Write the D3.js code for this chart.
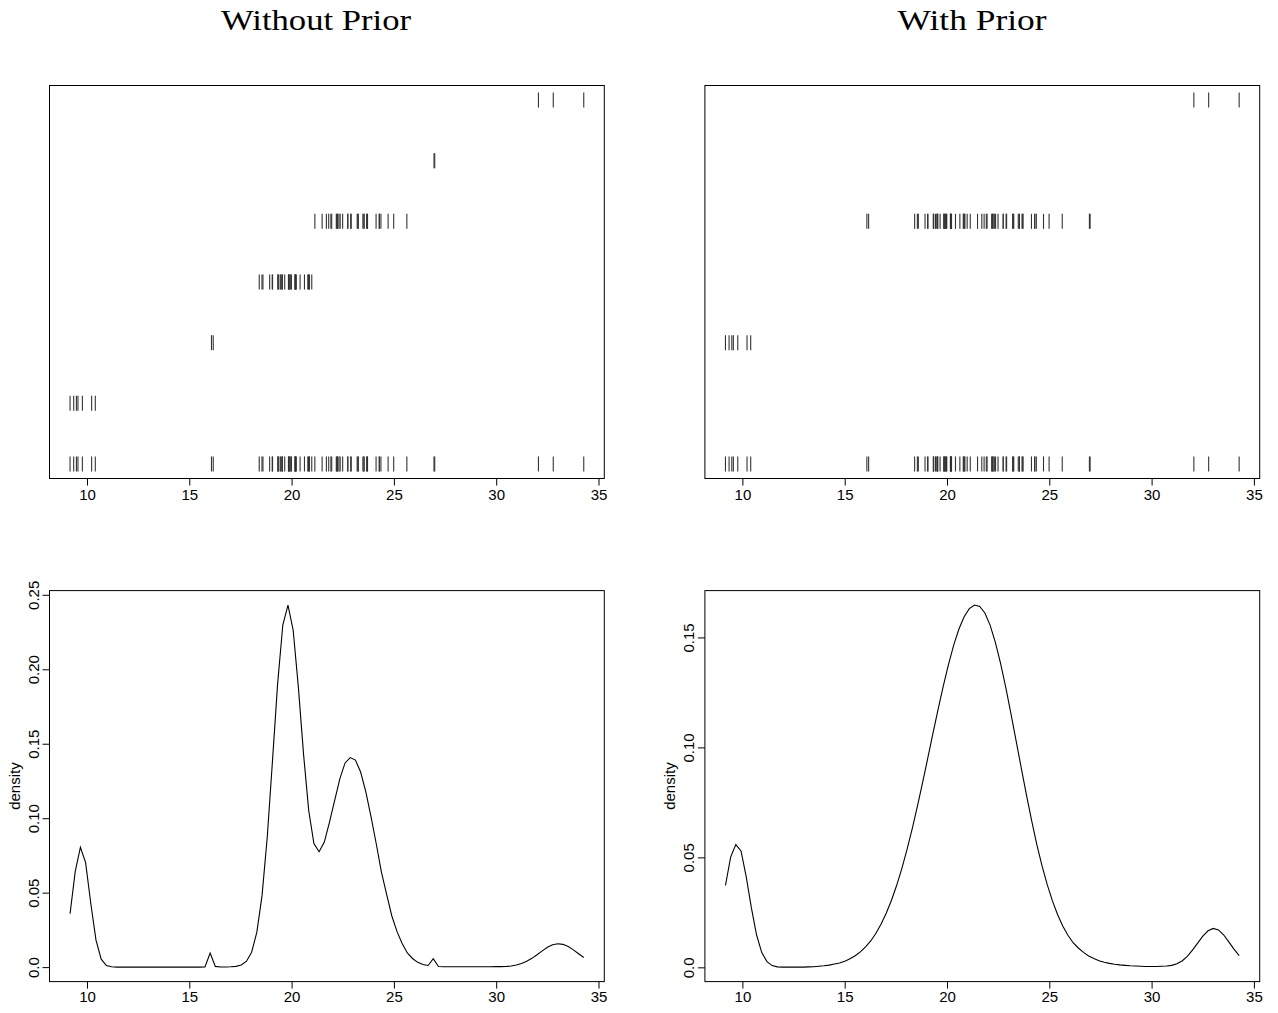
<!DOCTYPE html>
<html><head><meta charset="utf-8">
<script src="https://cdn.jsdelivr.net/npm/d3@7"></script>
<style>body{margin:0;background:#fff} svg{display:block}</style>
</head><body>
<script>
// Galaxy velocities (km/s / 1000)
const velocities = [9.172, 9.350, 9.483, 9.558, 9.775, 10.227, 10.406, 16.084, 16.170, 18.419,
  18.552, 18.600, 18.927, 19.052, 19.070, 19.330, 19.343, 19.349, 19.440, 19.473,
  19.529, 19.541, 19.547, 19.663, 19.846, 19.856, 19.863, 19.914, 19.918, 19.973,
  19.989, 20.166, 20.175, 20.179, 20.196, 20.215, 20.221, 20.415, 20.629, 20.795,
  20.821, 20.846, 20.875, 20.986, 21.137, 21.492, 21.701, 21.814, 21.921, 21.960,
  22.185, 22.209, 22.242, 22.249, 22.314, 22.374, 22.495, 22.746, 22.747, 22.888,
  22.914, 23.206, 23.241, 23.263, 23.484, 23.538, 23.542, 23.666, 23.706, 23.711,
  24.129, 24.285, 24.289, 24.366, 24.717, 24.990, 25.633, 26.960, 26.995, 32.065,
  32.789, 34.279];

// Row (cluster level) of each observation
const clusterWithoutPrior = [1,1,1,1,1,1,1, 2,2,
  3,3,3,3,3,3,3,3,3,3, 3,3,3,3,3,3,3,3,3,3, 3,3,3,3,3,3,3,3,3,3, 3,3,3,3,3,
  4,4,4,4,4,4,4,4,4,4, 4,4,4,4,4,4,4,4,4,4, 4,4,4,4,4,4,4,4,4,4, 4,4,4,
  5,5, 6,6,6];
const clusterWithPrior = [2,2,2,2,2,2,2,
  4,4,4,4,4,4,4,4,4,4, 4,4,4,4,4,4,4,4,4,4, 4,4,4,4,4,4,4,4,4,4, 4,4,4,4,4,4,4,4,4,4,
  4,4,4,4,4,4,4,4,4,4, 4,4,4,4,4,4,4,4,4,4, 4,4,4,4,4,4,4,4,4,4, 4,4,
  6,6,6];
const clusterLevels = [0, 6];

// Density evaluation grid
const densityX = [9.172,9.426,9.679,9.933,10.186,10.440,10.694,10.947,11.201,11.454,
  11.708,11.962,12.215,12.469,12.722,12.976,13.230,13.483,13.737,13.991,
  14.244,14.498,14.751,15.005,15.259,15.512,15.766,16.019,16.273,16.527,
  16.780,17.034,17.287,17.541,17.795,18.048,18.302,18.555,18.809,19.063,
  19.316,19.570,19.823,20.077,20.331,20.584,20.838,21.091,21.345,21.599,
  21.852,22.106,22.360,22.613,22.867,23.120,23.374,23.628,23.881,24.135,
  24.388,24.642,24.896,25.149,25.403,25.657,25.910,26.164,26.417,26.671,
  26.925,27.178,27.432,27.685,27.939,28.193,28.446,28.700,28.954,29.207,
  29.461,29.714,29.968,30.222,30.475,30.729,30.982,31.236,31.490,31.743,
  31.997,32.251,32.504,32.758,33.011,33.265,33.519,33.772,34.026,34.279];

const densityWithoutPrior = [0.0358,0.0643,0.0805,0.0702,0.0427,0.0181,0.0053,0.0011,0.0002,0.0000,
  0.0000,0.0000,0.0000,0.0000,0.0000,0.0000,0.0000,0.0000,0.0000,0.0000,
  0.0000,0.0000,0.0000,0.0000,0.0000,0.0000,0.0001,0.0094,0.0005,0.0001,
  0.0001,0.0002,0.0005,0.0014,0.0040,0.0100,0.0235,0.0480,0.0870,0.1380,
  0.1900,0.2297,0.2431,0.2262,0.1880,0.1430,0.1050,0.0830,0.0775,0.0840,
  0.0974,0.1120,0.1266,0.1371,0.1407,0.1390,0.1310,0.1176,0.1010,0.0830,
  0.0640,0.0490,0.0345,0.0240,0.0158,0.0095,0.0058,0.0032,0.0018,0.0011,
  0.0056,0.0004,0.0002,0.0002,0.0002,0.0002,0.0002,0.0002,0.0002,0.0002,
  0.0002,0.0002,0.0003,0.0003,0.0004,0.0007,0.0014,0.0024,0.0039,0.0059,
  0.0083,0.0109,0.0133,0.0150,0.0157,0.0153,0.0138,0.0116,0.0090,0.0065];

const densityWithPrior = [0.0372,0.0501,0.0558,0.0529,0.0412,0.0270,0.0147,0.0067,0.0026,0.0008,
  0.0002,0.0001,0.0001,0.0001,0.0001,0.0001,0.0002,0.0003,0.0005,0.0007,
  0.0010,0.0015,0.0020,0.0028,0.0039,0.0053,0.0070,0.0093,0.0120,0.0155,
  0.0197,0.0247,0.0305,0.0373,0.0450,0.0536,0.0631,0.0733,0.0841,0.0952,
  0.1065,0.1175,0.1281,0.1379,0.1466,0.1538,0.1594,0.1631,0.1647,0.1641,
  0.1611,0.1556,0.1479,0.1384,0.1275,0.1156,0.1032,0.0907,0.0785,0.0668,
  0.0559,0.0462,0.0377,0.0303,0.0240,0.0188,0.0146,0.0112,0.0088,0.0068,
  0.0052,0.0040,0.0030,0.0023,0.0018,0.0014,0.0011,0.0009,0.0007,0.0006,
  0.0005,0.0004,0.0004,0.0004,0.0005,0.0006,0.0009,0.0016,0.0029,0.0050,
  0.0078,0.0110,0.0142,0.0166,0.0177,0.0170,0.0148,0.0116,0.0083,0.0053];

const xTicks = [10, 15, 20, 25, 30, 35];
const yTicksWithout = [0, 0.05, 0.10, 0.15, 0.20, 0.25];
const yTickLabelsWithout = ["0.0", "0.05", "0.10", "0.15", "0.20", "0.25"];
const yTicksWith = [0, 0.05, 0.10, 0.15];
const yTickLabelsWith = ["0.0", "0.05", "0.10", "0.15"];
const titles = ["Without Prior", "With Prior"];
const yAxisLabel = "density";

// ---------- drawing ----------
const W = 1278, H = 1013;
const svg = d3.select("body").append("svg").attr("width", W).attr("height", H);
const SANS = "'Liberation Sans', Arial, Helvetica, sans-serif";
const FS = "15px";

function pad(ext) { const r = ext[1] - ext[0]; return [ext[0] - 0.04 * r, ext[1] + 0.04 * r]; }

const panelX = [[49.5, 604.3], [704.9, 1259.7]];
const topY = [85.5, 478.5], botY = [590.6, 981.6];
const titleX = [316, 972], titleW = [190, 149];
const clusters = [clusterWithoutPrior, clusterWithPrior];
const dens = [densityWithoutPrior, densityWithPrior];
const yTicks = [yTicksWithout, yTicksWith];
const yLabs = [yTickLabelsWithout, yTickLabelsWith];

function styleAxis(g) {
  g.select(".domain").remove();
  g.selectAll(".tick line").attr("stroke", "#000").attr("stroke-width", 1);
  g.selectAll(".tick text").attr("fill", "#000").style("font-family", SANS).style("font-size", FS);
}

for (let p = 0; p < 2; p++) {
  // Title
  svg.append("text").attr("x", titleX[p]).attr("y", 30)
    .attr("text-anchor", "middle")
    .attr("textLength", titleW[p]).attr("lengthAdjust", "spacingAndGlyphs")
    .style("font-family", "'Liberation Serif', 'Times New Roman', serif")
    .style("font-size", "30px").attr("fill", "#000").text(titles[p]);

  const x = d3.scaleLinear().domain(pad(d3.extent(velocities))).range(panelX[p]);

  // ----- top: allocation rug -----
  const yT = d3.scaleLinear().domain(pad(clusterLevels)).range([topY[1], topY[0]]);
  const gT = svg.append("g");
  const rows = [];
  velocities.forEach((v, i) => { rows.push({ v, r: 0 }); rows.push({ v, r: clusters[p][i] }); });
  gT.selectAll("line.rug").data(rows).enter().append("line")
    .attr("x1", d => x(d.v)).attr("x2", d => x(d.v))
    .attr("y1", d => yT(d.r) - 7.5).attr("y2", d => yT(d.r) + 7.5)
    .attr("stroke", "#333").attr("stroke-width", 1.1);
  gT.append("rect").attr("x", panelX[p][0]).attr("y", topY[0])
    .attr("width", panelX[p][1] - panelX[p][0]).attr("height", topY[1] - topY[0])
    .attr("fill", "none").attr("stroke", "#000").attr("stroke-width", 1);
  const axT = svg.append("g").attr("transform", `translate(0,${topY[1]})`)
    .call(d3.axisBottom(x).tickValues(xTicks).tickSize(7).tickPadding(4).tickFormat(d3.format("d")));
  styleAxis(axT);

  // ----- bottom: density -----
  const yB = d3.scaleLinear().domain(pad(d3.extent(dens[p]))).range([botY[1], botY[0]]);
  const pts = densityX.map((d, i) => [d, dens[p][i]]);
  svg.append("path").datum(pts)
    .attr("d", d3.line().x(d => x(d[0])).y(d => yB(d[1])))
    .attr("fill", "none").attr("stroke", "#000").attr("stroke-width", 1.1)
    .attr("stroke-linejoin", "miter");
  svg.append("rect").attr("x", panelX[p][0]).attr("y", botY[0])
    .attr("width", panelX[p][1] - panelX[p][0]).attr("height", botY[1] - botY[0])
    .attr("fill", "none").attr("stroke", "#000").attr("stroke-width", 1);
  const axB = svg.append("g").attr("transform", `translate(0,${botY[1]})`)
    .call(d3.axisBottom(x).tickValues(xTicks).tickSize(7).tickPadding(3).tickFormat(d3.format("d")));
  styleAxis(axB);

  const axL = svg.append("g").attr("transform", `translate(${panelX[p][0]},0)`)
    .call(d3.axisLeft(yB).tickValues(yTicks[p]).tickSize(7).tickPadding(4)
      .tickFormat((d, i) => yLabs[p][i]));
  styleAxis(axL);
  axL.selectAll(".tick text")
    .attr("transform", "rotate(-90)")
    .attr("x", 0).attr("y", -16).attr("dy", "0")
    .attr("text-anchor", "middle")
    .attr("dominant-baseline", "central");

  svg.append("text")
    .attr("transform", `translate(${panelX[p][0] - 35},${(botY[0] + botY[1]) / 2}) rotate(-90)`)
    .attr("text-anchor", "middle").attr("dominant-baseline", "central")
    .style("font-family", SANS).style("font-size", FS).attr("fill", "#000")
    .text(yAxisLabel);
}
</script>
</body></html>
